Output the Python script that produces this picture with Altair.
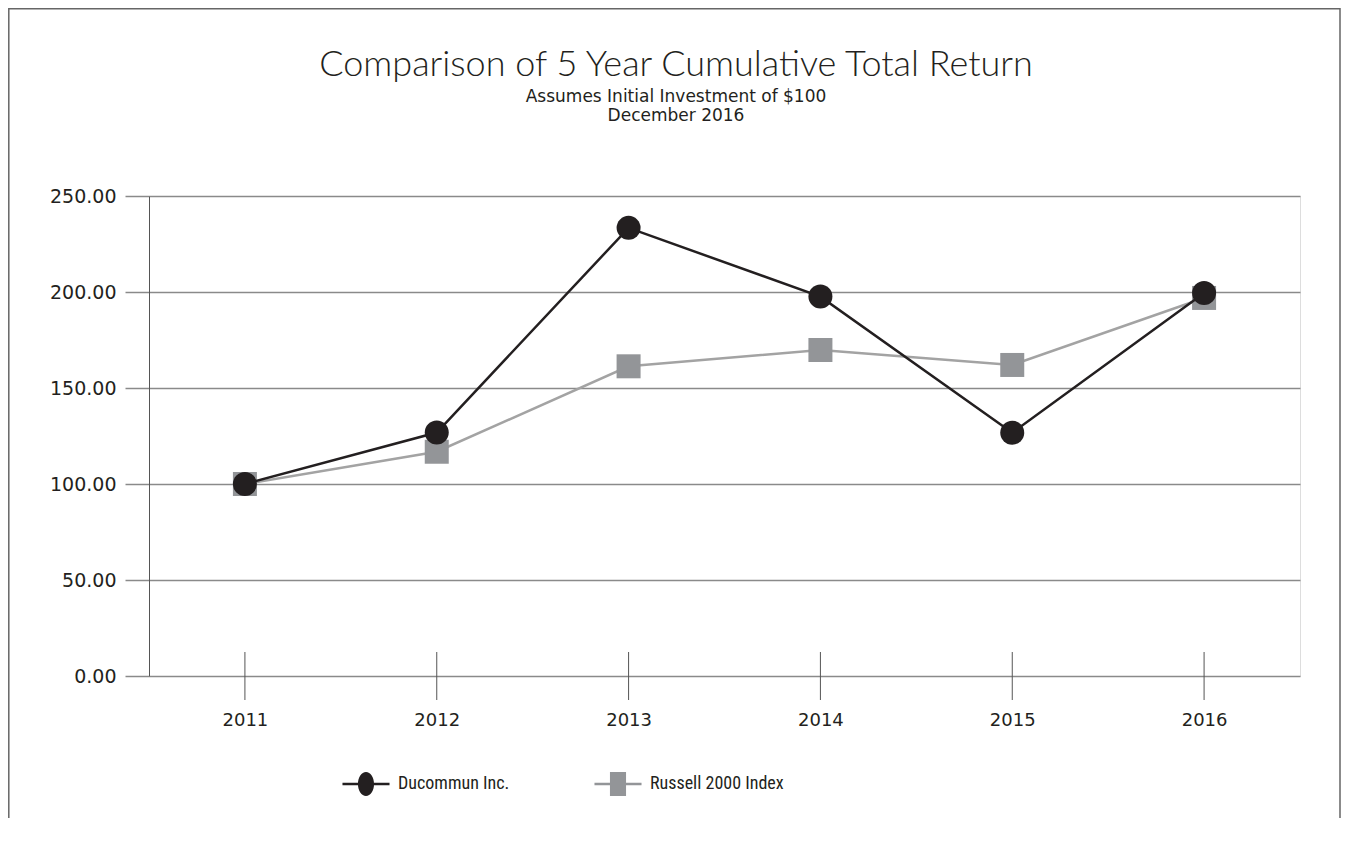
import altair as alt
import pandas as pd

# ---- data ----
years = ["2011", "2012", "2013", "2014", "2015", "2016"]
series_names = ["Ducommun Inc.", "Russell 2000 Index"]
ducommun = [100.00, 126.8, 233.4, 197.6, 126.7, 199.5]
russell = [100.00, 116.8, 161.3, 169.8, 162.0, 196.9]
y_ticks = [0, 50, 100, 150, 200, 250]

title_text = "Comparison of 5 Year Cumulative Total Return"
subtitle_lines = ["Assumes Initial Investment of $100", "December 2016"]

rows = []
for i, yr in enumerate(years):
    rows.append({"year": yr, "series": series_names[0], "value": ducommun[i]})
    rows.append({"year": yr, "series": series_names[1], "value": russell[i]})
df = pd.DataFrame(rows)
ticks_df = pd.DataFrame({"year": years})

W, H = 1151, 480
DARK = "#231f20"
GRID = "#8a8a8a"
SQ = "#939598"
LINE_GRAY = "#a3a3a3"
LABEL_FONT = "DejaVu Sans"
LEGEND_FONT = "'Liberation Sans Narrow', 'Roboto Condensed', Roboto, sans-serif"
TITLE_FONT = "Lato"

x_scale = alt.Scale(type="point", domain=years, padding=0.5)
x_enc = alt.X(
    "year:O",
    scale=x_scale,
    axis=alt.Axis(
        title=None, labelAngle=0, labelAlign="center", domain=False, ticks=False,
        labelPadding=44, labelFontSize=18, labelColor=DARK, labelFont=LABEL_FONT,
    ),
)
y_enc = alt.Y(
    "value:Q",
    scale=alt.Scale(domain=[0, 250], nice=False, zero=True),
    axis=alt.Axis(
        values=y_ticks, format=".2f", title=None,
        grid=True, gridColor=GRID, gridWidth=1.5, gridOpacity=1,
        tickSize=24, tickColor=GRID, tickWidth=1.5,
        domainColor="#555555", domainWidth=1,
        labelPadding=9, labelFontSize=19, labelColor=DARK, labelFont=LABEL_FONT,
    ),
)

base = alt.Chart(df)

ticks = alt.Chart(ticks_df).mark_rule(color="#555555", strokeWidth=1).encode(
    x=alt.X("year:O", scale=x_scale),
    y=alt.value(H - 24), y2=alt.value(H + 24),
)

r_line = base.transform_filter(alt.datum.series == series_names[1]).mark_line(
    color=LINE_GRAY, strokeWidth=2.5).encode(x=x_enc, y=y_enc)
r_pts = base.transform_filter(alt.datum.series == series_names[1]).mark_point(
    shape="square", filled=True, size=576, color=SQ, opacity=1).encode(x=x_enc, y=y_enc)
d_line = base.transform_filter(alt.datum.series == series_names[0]).mark_line(
    color=DARK, strokeWidth=2.5).encode(x=x_enc, y=y_enc)
d_pts = base.transform_filter(alt.datum.series == series_names[0]).mark_point(
    shape="circle", filled=True, size=576, color=DARK, opacity=1).encode(x=x_enc, y=y_enc)

path_circle = ("M-1.96,-0.11H1.96V0.11H-1.96Z "
               "M0.67,0A0.67,1 0 1,1 -0.67,0A0.67,1 0 1,1 0.67,0Z")
path_square = ("M-1.96,-0.11H1.96V0.11H-1.96Z "
               "M-0.67,-1H0.67V1H-0.67Z")

legend_kw = dict(
    title=None, orient="none", legendX=205, legendY=576, direction="horizontal",
    symbolSize=576, symbolOpacity=1, symbolStrokeWidth=0,
    labelFontSize=18, labelFont=LEGEND_FONT, labelColor=DARK,
    labelOffset=20, columnPadding=84, labelLimit=300,
)
legend_layer = base.mark_point(filled=True, opacity=0, size=576).encode(
    x=x_enc, y=y_enc,
    color=alt.Color("series:N", scale=alt.Scale(domain=series_names, range=[DARK, SQ]),
                    legend=alt.Legend(**legend_kw)),
    shape=alt.Shape("series:N", scale=alt.Scale(domain=series_names, range=[path_circle, path_square]),
                    legend=alt.Legend(**legend_kw)),
)

one = alt.Data(values=[{}])
frame = alt.Chart(one).mark_rect(
    fillOpacity=0, stroke="#666666", strokeWidth=1.5).encode(
    x=alt.value(-140.2), x2=alt.value(1191), y=alt.value(-187.2), y2=alt.value(H + 200),
)

title_mark = alt.Chart(one).mark_text(
    font=TITLE_FONT, fontWeight=300, fontSize=36, color=DARK, align="center", baseline="alphabetic"
).encode(x=alt.value(527), y=alt.value(-120), text=alt.value(title_text))
sub1 = alt.Chart(one).mark_text(
    font=LABEL_FONT, fontSize=17, color=DARK, align="center", baseline="alphabetic"
).encode(x=alt.value(527), y=alt.value(-94), text=alt.value(subtitle_lines[0]))
sub2 = alt.Chart(one).mark_text(
    font=LABEL_FONT, fontSize=17, color=DARK, align="center", baseline="alphabetic"
).encode(x=alt.value(527), y=alt.value(-75), text=alt.value(subtitle_lines[1]))

chart = alt.layer(frame, title_mark, sub1, sub2, ticks, r_line, r_pts, d_line, d_pts, legend_layer).properties(
    width=W, height=H,
    autosize=alt.AutoSizeParams(type="none"),
    padding={"left": 141, "top": 188, "right": 43, "bottom": 142},
).configure_view(stroke=GRID, strokeWidth=1.5).configure(background="white")

chart.save("out.html", embed_options={"renderer": "svg", "actions": False})
